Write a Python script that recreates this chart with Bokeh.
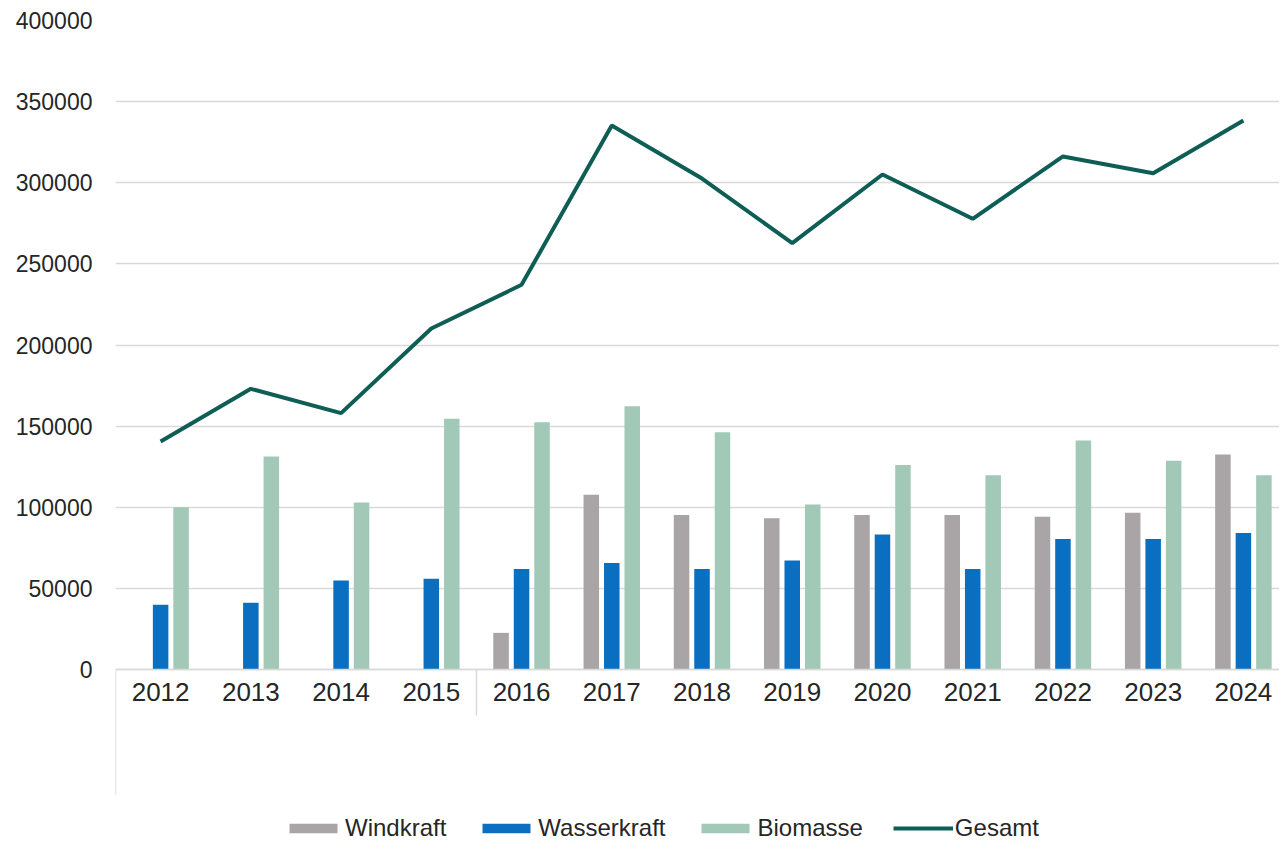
from bokeh.plotting import figure
from bokeh.models import (Range1d, FixedTicker, ColumnDataSource, Legend, LegendItem,
                          NumeralTickFormatter)
from bokeh.transform import dodge
from bokeh.embed import file_html
from bokeh.resources import INLINE

# ---------------- data ----------------
years = [2012, 2013, 2014, 2015, 2016, 2017, 2018, 2019, 2020, 2021, 2022, 2023, 2024]
windkraft = [0, 0, 0, 0, 22600, 107700, 95300, 93300, 95300, 95300, 94100, 96600, 132500]
wasserkraft = [40000, 41100, 54900, 55900, 62000, 65700, 62000, 67200, 83200, 62000, 80500, 80500, 84200]
biomasse = [100000, 131300, 102900, 154500, 152400, 162300, 146300, 101700, 126100, 119800, 141100, 128600, 119800]
gesamt = [140500, 173000, 158000, 210200, 237100, 335300, 302600, 262800, 305100, 277800, 316200, 305900, 338400]
y_ticks = [0, 50000, 100000, 150000, 200000, 250000, 300000, 350000, 400000]
series_names = ["Windkraft", "Wasserkraft", "Biomasse", "Gesamt"]

# ---------------- styles ----------------
C_WIND = "#a9a5a6"
C_WASSER = "#0a6fc1"
C_BIO = "#a2c8b8"
C_GES = "#0e5e55"
C_GRID = "#d9d9d9"
C_TEXT = "#262626"
FONT = "Liberation Sans"

src = ColumnDataSource(dict(year=years, wind=windkraft, wasser=wasserkraft,
                            bio=biomasse, ges=gesamt))

p = figure(width=1279, height=842,
           x_range=Range1d(2011.5, 2024.40),
           y_range=Range1d(-106600, 400000),
           output_backend="svg", toolbar_location=None,
           min_border_left=115, min_border_right=0,
           min_border_top=20, min_border_bottom=0)
p.outline_line_color = None
p.background_fill_color = "white"
p.border_fill_color = "white"

# grid
p.xgrid.visible = False
p.ygrid.ticker = FixedTicker(ticks=y_ticks)
p.ygrid.grid_line_color = C_GRID
p.ygrid.grid_line_width = 1.5

# y axis
p.yaxis.ticker = FixedTicker(ticks=y_ticks)
p.yaxis.formatter = NumeralTickFormatter(format="0")
p.yaxis.axis_line_color = None
p.yaxis.major_tick_out = 0
p.yaxis.major_tick_in = 0
p.yaxis.minor_tick_out = 0
p.yaxis.minor_tick_in = 0
p.yaxis.major_label_standoff = 23
p.yaxis.major_label_text_font = FONT
p.yaxis.major_label_text_font_size = "23px"
p.yaxis.major_label_text_color = C_TEXT

# x axis at y = 0
p.xaxis.fixed_location = 0
p.xaxis.ticker = FixedTicker(ticks=years)
p.xaxis.axis_line_color = C_GRID
p.xaxis.axis_line_width = 1.5
p.xaxis.major_tick_out = 0
p.xaxis.major_tick_in = 0
p.xaxis.minor_tick_out = 0
p.xaxis.minor_tick_in = 0
p.xaxis.major_label_standoff = 13
p.xaxis.major_label_text_font = FONT
p.xaxis.major_label_text_font_size = "26px"
p.xaxis.major_label_text_color = C_TEXT

# category separators below the axis
p.segment(x0=[years[0] - 0.5, years[4] - 0.5], y0=[0, 0],
          x1=[years[0] - 0.5, years[4] - 0.5], y1=[-77700, -28400],
          line_color=C_GRID, line_width=1.5)

# bars
bw = 0.172
r_wind = p.vbar(x=dodge("year", -0.227, range=p.x_range), top="wind", width=bw,
                source=src, fill_color=C_WIND, line_color=None)
r_wasser = p.vbar(x=dodge("year", 0.0, range=p.x_range), top="wasser", width=bw,
                  source=src, fill_color=C_WASSER, line_color=None)
r_bio = p.vbar(x=dodge("year", 0.227, range=p.x_range), top="bio", width=bw,
               source=src, fill_color=C_BIO, line_color=None)
# total line
r_ges = p.line(x="year", y="ges", source=src, line_color=C_GES, line_width=4)

legend = Legend(items=[LegendItem(label=series_names[0], renderers=[r_wind]),
                       LegendItem(label=series_names[1], renderers=[r_wasser]),
                       LegendItem(label=series_names[2], renderers=[r_bio]),
                       LegendItem(label=series_names[3], renderers=[r_ges])],
                location=(168, 0), orientation="horizontal",
                glyph_width=60, glyph_height=12, label_standoff=2, spacing=30,
                padding=0, margin=0, border_line_color=None,
                background_fill_alpha=0,
                label_text_font=FONT, label_text_font_size="24px",
                label_text_color=C_TEXT)
p.add_layout(legend)

open("out.html", "w").write(file_html(p, INLINE))
